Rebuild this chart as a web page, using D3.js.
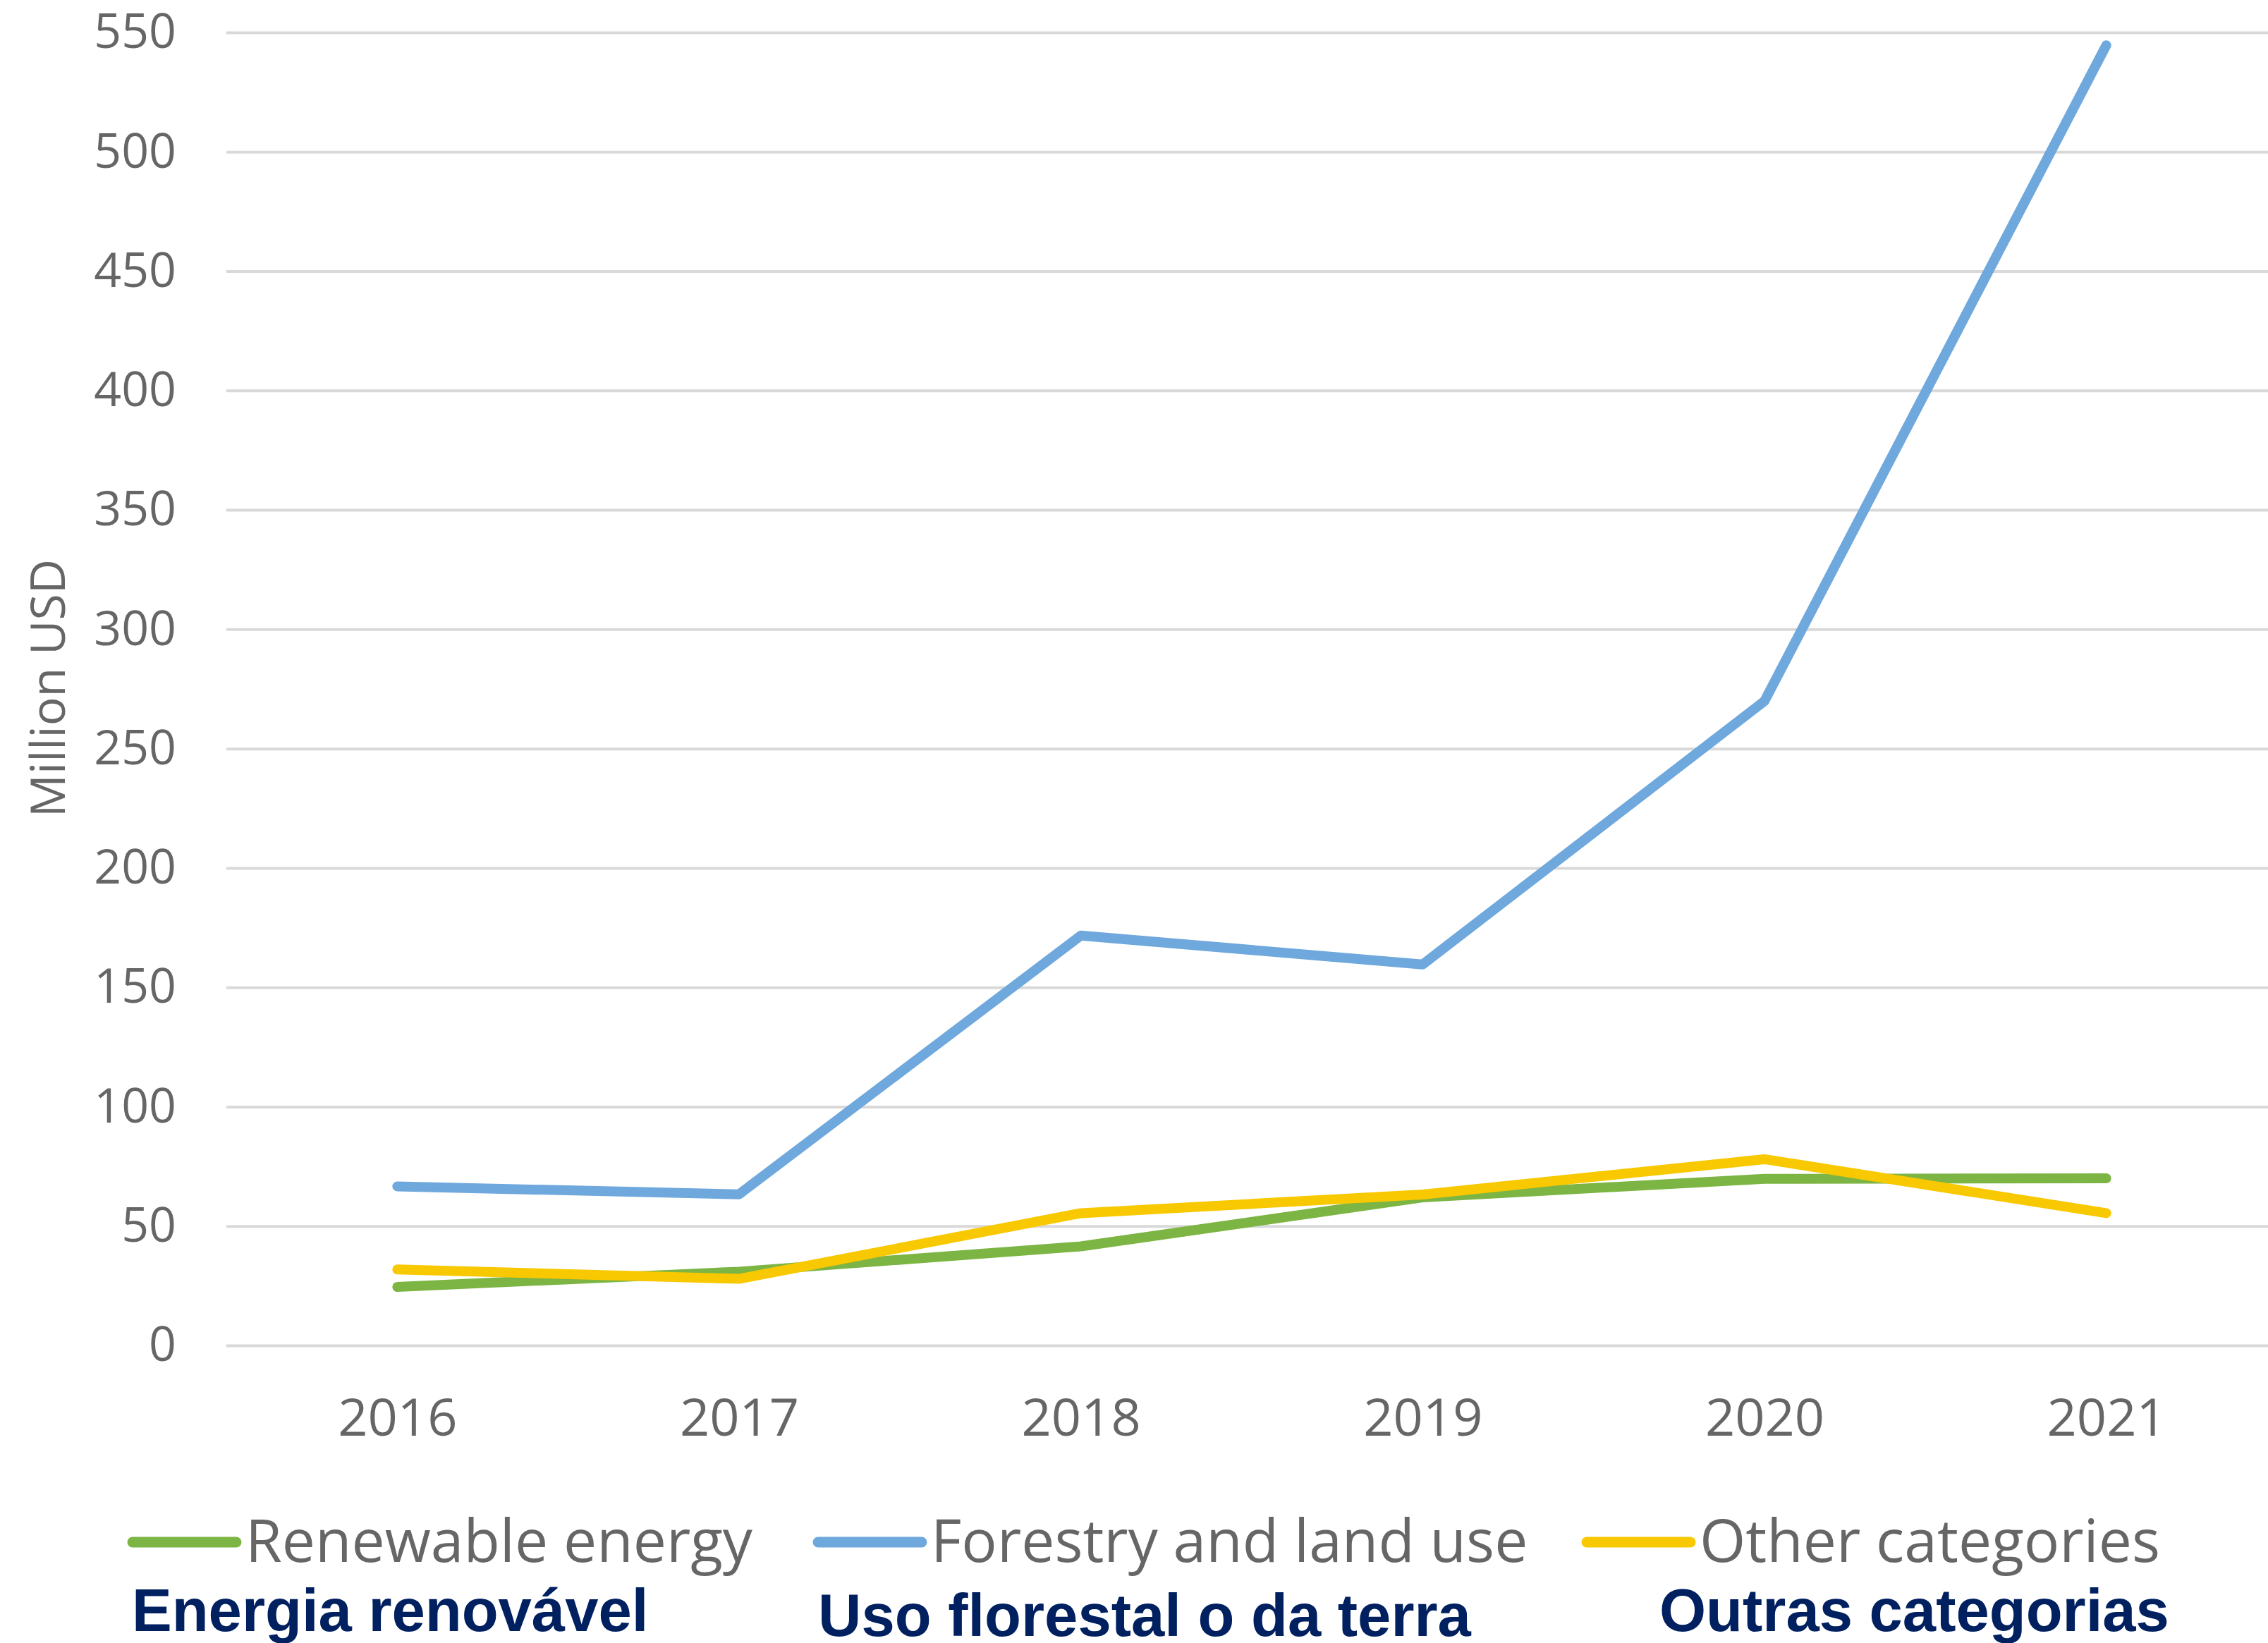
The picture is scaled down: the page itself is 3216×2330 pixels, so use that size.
<!DOCTYPE html>
<html>
<head>
<meta charset="utf-8">
<script src="https://cdn.jsdelivr.net/npm/d3@7"></script>
<style>
body { margin: 0; background: #fff; }
svg { display: block; background: #fff; }
</style>
</head>
<body>
<svg width="3216" height="2330"></svg>
<script>
// data (million USD)
var years = ["2016", "2017", "2018", "2019", "2020", "2021"];
var renewable = [24.5, 30.9, 41.5, 62, 69.8, 70];
var forestry  = [66.6, 63.3, 171.7, 159.6, 269.9, 544.6];
var other     = [31.8, 27.9, 55.4, 63.2, 78, 55.4];

var seriesNames   = ["Renewable energy", "Forestry and land use", "Other categories"];
var seriesNamesPt = ["Energia renovável", "Uso florestal o da terra", "Outras categorias"];
var seriesColors  = ["#7db544", "#6fa8dc", "#f8c800"];
var yTicks = [0, 50, 100, 150, 200, 250, 300, 350, 400, 450, 500, 550];

var svg = d3.select("svg"),
    width = +svg.attr("width"),
    height = +svg.attr("height");

// plot area (window.top is reserved, so not called "top")
var plotLeft = 321, plotRight = 3229, plotTop = 46, plotBottom = 1908;

var x = d3.scalePoint()
    .domain(years)
    .range([plotLeft, plotRight])
    .padding(0.5);

var y = d3.scaleLinear()
    .domain([0, 550])
    .range([plotBottom, plotTop]);

// gridlines + y labels
var yAxis = svg.append("g")
    .attr("transform", "translate(" + plotLeft + ",0)")
    .call(d3.axisLeft(y).tickValues(yTicks).tickSize(-(width - plotLeft)).tickPadding(71));
yAxis.select(".domain").remove();
yAxis.selectAll("line").attr("stroke", "#d9d9d9").attr("stroke-width", 4);
yAxis.selectAll("text")
    .attr("fill", "#666")
    .style("font-family", "'Open Sans', sans-serif")
    .style("font-size", "68px");

// x labels
var xAxis = svg.append("g")
    .attr("transform", "translate(0," + plotBottom + ")")
    .call(d3.axisBottom(x).tickSize(0).tickPadding(75));
xAxis.select(".domain").remove();
xAxis.selectAll("text")
    .attr("fill", "#666")
    .style("font-family", "'Open Sans', sans-serif")
    .style("font-size", "74px");

// y title
svg.append("text")
    .attr("transform", "translate(92,976) rotate(-90)")
    .attr("text-anchor", "middle")
    .attr("fill", "#666")
    .style("font-family", "'Open Sans', sans-serif")
    .style("font-size", "68px")
    .text("Million USD");

// lines
var series = [renewable, forestry, other];
var line = d3.line()
    .x(function(d, i) { return x(years[i]); })
    .y(function(d) { return y(d); });

svg.append("g")
  .selectAll("path")
  .data(series)
  .enter()
  .append("path")
    .attr("d", line)
    .attr("fill", "none")
    .attr("stroke", function(d, i) { return seriesColors[i]; })
    .attr("stroke-width", 14)
    .attr("stroke-linecap", "round")
    .attr("stroke-linejoin", "round");

// legend
var legendX = [188, 1160, 2250];
var ptX = [187, 1160, 2353];
var ptY = [2313, 2320, 2313];

var leg = svg.append("g")
  .selectAll("g")
  .data(seriesNames)
  .enter()
  .append("g")
    .attr("transform", function(d, i) { return "translate(" + legendX[i] + ",2187)"; });

leg.append("line")
    .attr("x1", 0).attr("x2", 147)
    .attr("stroke", function(d, i) { return seriesColors[i]; })
    .attr("stroke-width", 15)
    .attr("stroke-linecap", "round");

leg.append("text")
    .attr("x", 160)
    .attr("y", 28)
    .attr("fill", "#666")
    .style("font-family", "'Open Sans', sans-serif")
    .style("font-size", "84px")
    .text(function(d) { return d; });

svg.append("g")
  .selectAll("text")
  .data(seriesNamesPt)
  .enter()
  .append("text")
    .attr("x", function(d, i) { return ptX[i]; })
    .attr("y", function(d, i) { return ptY[i]; })
    .attr("fill", "#002060")
    .style("font-family", "'Liberation Sans', Arial, sans-serif")
    .style("font-weight", "bold")
    .style("font-size", "85px")
    .text(function(d) { return d; });
</script>
</body>
</html>
